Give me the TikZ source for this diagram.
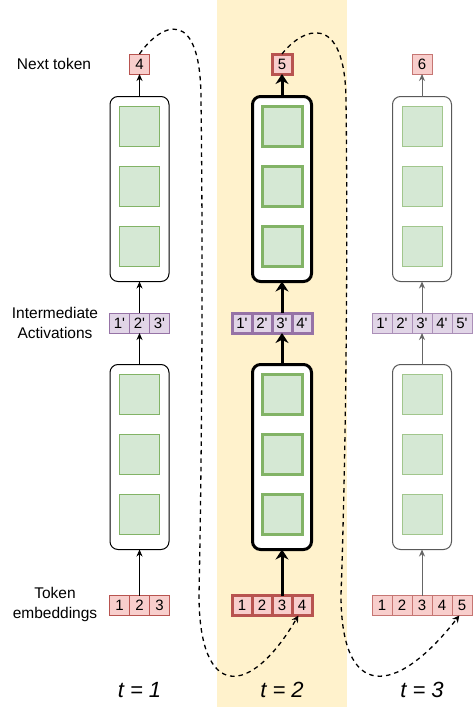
\documentclass[tikz,border=0pt]{standalone}
\usepackage{fontspec}
\setmainfont{Liberation Sans}
\newfontfamily\lsans{Liberation Sans}
\usetikzlibrary{arrows.meta}
\definecolor{bandY}{HTML}{FFF2CC}
\definecolor{redD}{HTML}{B85450}
\definecolor{redF}{HTML}{F8CECC}
\definecolor{purD}{HTML}{9673A6}
\definecolor{purF}{HTML}{E1D5E7}
\definecolor{grnD}{HTML}{82B366}
\definecolor{grnF}{HTML}{D5E8D4}
\begin{document}
\begin{tikzpicture}[x=1pt,y=-1pt,
  every node/.style={inner sep=0pt, outer sep=0pt},
  cellbase/.style={minimum width=20pt, minimum height=20pt, font=\lsans\fontsize{15}{17}\selectfont},
  redcell/.style={cellbase, draw=redD, fill=redF, line width=1pt},
  purcell/.style={cellbase, draw=purD, fill=purF, line width=1pt},
  block/.style={draw=black, fill=white, rounded corners=8pt, minimum width=59pt, minimum height=185pt, line width=1pt},
  sq/.style={draw=grnD, fill=grnF, minimum width=40pt, minimum height=40pt, line width=1pt},
  boldline/.style={line width=3pt},
  faded/.style={draw=black!60},
  arr/.style={-{Stealth[length=7pt,width=6pt]}, line width=1pt},
  arrB/.style={-{Stealth[length=10pt,width=13pt]}, line width=3pt},
  lbl/.style={font=\lsans\fontsize{15.5}{20}\selectfont, align=center},
  tlbl/.style={font=\lsans\fontsize{22}{24}\selectfont\itshape},
  flow/.style={dash pattern=on 4.5pt off 4pt, line width=1.3pt, -{Stealth[length=7pt,width=7pt]}},
]
\useasboundingbox (0,0) rectangle (473,707);
\fill[white] (0,0) rectangle (473,707);
\fill[bandY] (217,0) rectangle (347,707);

% labels
\node[lbl] (lnext) at (54,64) {Next token};
\node[lbl] (lact) at (55,323) {Intermediate\\Activations};
\node[lbl] (lemb) at (55,604.5) {Token\\embeddings};

% ---------- column 1 ----------
\node[block] (u1) at (139.5,189) {};
\node[block] (l1) at (139.5,457) {};
\foreach \j/\y in {1/126,2/186,3/246} \node[sq] (u1s\j) at (139.5,\y) {};
\foreach \j/\y in {1/394,2/454,3/514} \node[sq] (l1s\j) at (139.5,\y) {};
\foreach \i/\x in {1/119.5,2/139.5,3/159.5} {
  \node[redcell] (a1-\i) at (\x,605.5) {\i};
  \node[purcell] (m1-\i) at (\x,323) {\i'};
}
\node[redcell] (n1) at (139.5,64) {4};
\draw[arr] (a1-2.north) -- (l1.south);
\draw[arr] (l1.north) -- (m1-2.south);
\draw[arr] (m1-2.north) -- (u1.south);
\draw[arr] (u1.north) -- (n1.south);

% ---------- column 2 ----------
\node[block, boldline] (u2) at (282,189) {};
\node[block, boldline] (l2) at (282,457) {};
\foreach \j/\y in {1/126,2/186,3/246} \node[sq, boldline] (u2s\j) at (282,\y) {};
\foreach \j/\y in {1/394,2/454,3/514} \node[sq, boldline] (l2s\j) at (282,\y) {};
\foreach \i/\x in {1/242,2/262,3/282,4/302} {
  \node[redcell, boldline] (a2-\i) at (\x,605.5) {\i};
  \node[purcell, boldline] (m2-\i) at (\x,323) {\i'};
}
\node[redcell, boldline] (n2) at (282,64) {5};
\draw[arrB] (a2-3.north) -- (l2.south);
\draw[arrB] (l2.north) -- (m2-3.south);
\draw[arrB] (m2-3.north) -- (u2.south);
\draw[arrB] (u2.north) -- (n2.south);

% ---------- column 3 ----------
\node[block, draw=black!65] (u3) at (422,189) {};
\node[block, draw=black!65] (l3) at (422,457) {};
\foreach \j/\y in {1/126,2/186,3/246} \node[sq, draw=grnD!75!white] (u3s\j) at (422,\y) {};
\foreach \j/\y in {1/394,2/454,3/514} \node[sq, draw=grnD!75!white] (l3s\j) at (422,\y) {};
\foreach \i/\x in {1/382,2/402,3/422,4/442,5/462} {
  \node[redcell, draw=redD!80!white] (a3-\i) at (\x,605.5) {\i};
  \node[purcell, draw=purD!80!white] (m3-\i) at (\x,323) {\i'};
}
\node[redcell, draw=redD!80!white] (n3) at (422,64) {6};
\draw[arr, faded] (a3-3.north) -- (l3.south);
\draw[arr, faded] (l3.north) -- (m3-3.south);
\draw[arr, faded] (m3-3.north) -- (u3.south);
\draw[arr, faded] (u3.north) -- (n3.south);

% ---------- time labels ----------
\node[tlbl] (t1) at (139.5,690) {t = 1};
\node[tlbl] (t2) at (282,690) {t = 2};
\node[tlbl] (t3) at (422,690) {t = 3};

% ---------- feedback curves ----------
\coordinate (c1a) at (201,100);
\coordinate (c1b) at (199,595);
\coordinate (c2a) at (346,100);
\coordinate (c2b) at (341,595);
\draw[flow] (n1.north) .. controls (161,23) and (201,5) .. (c1a)
  .. controls (203,250) and (202,450) .. (c1b)
  .. controls (199,700) and (250,698) .. (a2-4.250);
\draw[flow] (n2.north) .. controls (302,28) and (345,10) .. (c2a)
  .. controls (348,250) and (346,450) .. (c2b)
  .. controls (341,700) and (395,698) .. (a3-5.255);
\end{tikzpicture}
\end{document}
